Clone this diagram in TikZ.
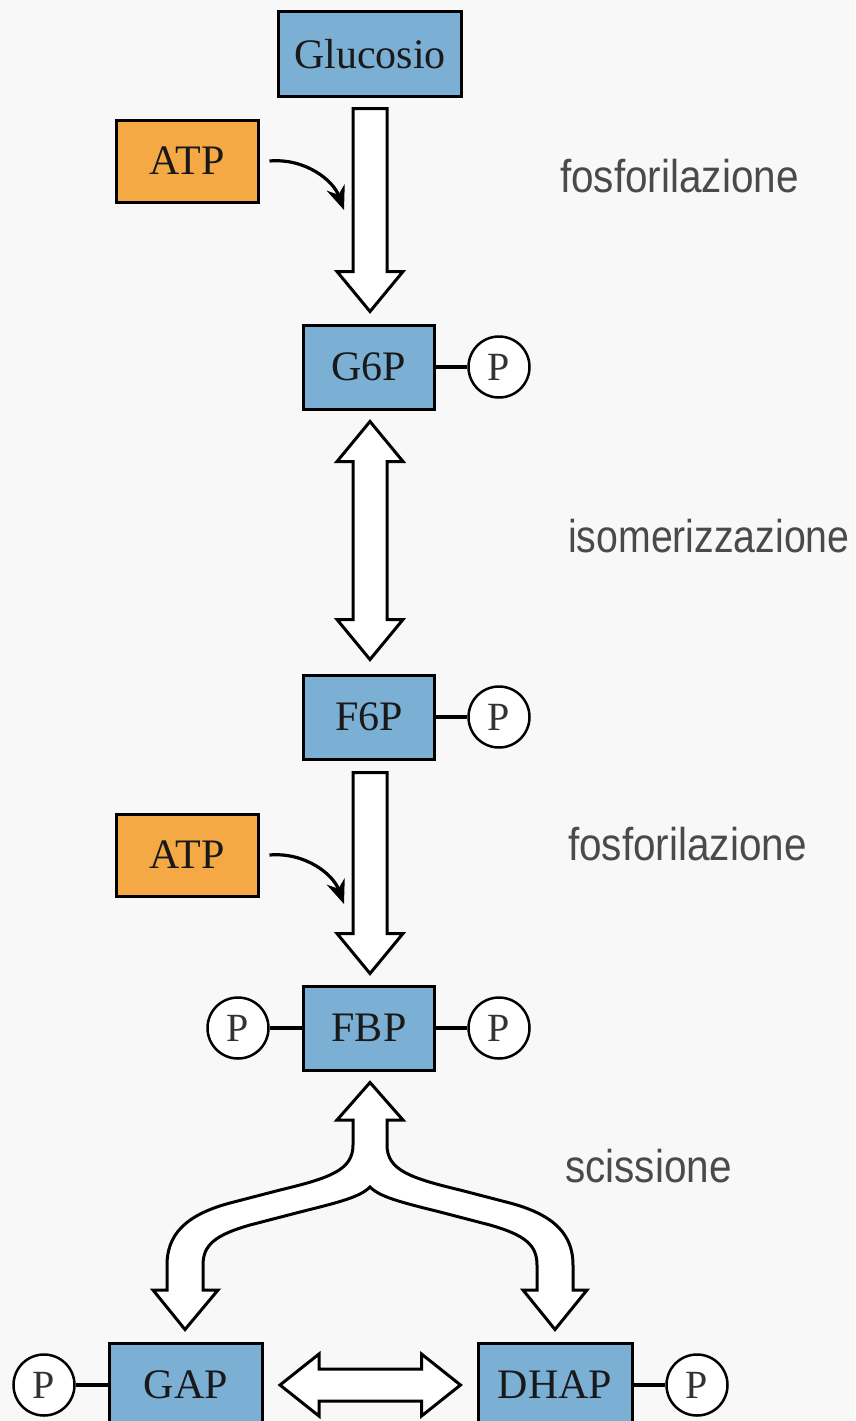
\documentclass[tikz,border=0pt]{standalone}
\usepackage{fontspec}
\setmainfont{Liberation Serif}
\newfontfamily\labfont{Liberation Sans}
\usetikzlibrary{arrows.meta,calc}
\definecolor{bg}{HTML}{F8F8F8}
\definecolor{boxblue}{HTML}{7BAFD4}
\definecolor{atporange}{HTML}{F5A945}
\definecolor{labgray}{HTML}{4A4A4A}
\newcommand{\fatdown}[2]{%
  \draw[fat] ($(#1)+(-17,0)$) -- ($(#1)+(17,0)$) -- ($(#2)+(17,-40)$) -- ($(#2)+(33,-40)$)
    -- (#2) -- ($(#2)+(-33,-40)$) -- ($(#2)+(-17,-40)$) -- cycle;}
\newcommand{\fatboth}[2]{%
  \draw[fat] (#1) -- ($(#1)+(33,40)$) -- ($(#1)+(17,40)$) -- ($(#2)+(17,-40)$) -- ($(#2)+(33,-40)$)
    -- (#2) -- ($(#2)+(-33,-40)$) -- ($(#2)+(-17,-40)$) -- ($(#1)+(-17,40)$) -- ($(#1)+(-33,40)$) -- cycle;}
\begin{document}
\begin{tikzpicture}[x=1pt,y=-1pt,
  mol/.style={draw=black, line width=3pt, fill=boxblue, minimum height=84pt, inner sep=0pt,
    font=\fontsize{42}{42}\selectfont, text=black!90},
  atp/.style={draw=black, line width=3pt, fill=atporange, minimum width=142pt, minimum height=82pt,
    inner sep=0pt, font=\fontsize{42}{42}\selectfont, text=black!90},
  phos/.style={circle, draw=black, line width=2.5pt, fill=white, minimum size=61pt, inner sep=0pt,
    font=\fontsize{40}{40}\selectfont, text=black!80},
  bond/.style={line width=3.5pt},
  fat/.style={draw=black, line width=3pt, fill=white, line join=miter},
  catarrow/.style={line width=3.2pt, -{Stealth[length=24pt,width=19pt]}},
  reactlabel/.style={font=\labfont\fontsize{46}{46}\selectfont, text=labgray, anchor=base west,
    inner sep=0pt, xscale=0.88}
]
\fill[bg] (0,0) rectangle (855,1421);
\useasboundingbox (0,0) rectangle (855,1421);
\begin{scope}
\clip (0,0) rectangle (855,1421);

% molecule boxes
\node[mol, minimum width=183pt] (glc) at (370,54) {Glucosio};
\node[atp] (atp1) at (187,161) {ATP};
\node[mol, minimum width=131pt] (g6p) at (369,367) {G6P};
\node[mol, minimum width=131pt] (f6p) at (369,717) {F6P};
\node[atp] (atp2) at (187,855) {ATP};
\node[mol, minimum width=131pt] (fbp) at (369,1028) {FBP};
\node[mol, minimum width=153pt] (gap) at (186,1385) {GAP};
\node[mol, minimum width=154pt] (dhap) at (555,1385) {DHAP};

% phosphates
\node[phos] (pg6p) at (499,367) {P};
\node[phos] (pf6p) at (499,717) {P};
\node[phos] (pfbpl) at (238,1028) {P};
\node[phos] (pfbpr) at (499,1028) {P};
\node[phos] (pgap) at (44,1385) {P};
\node[phos] (pdhap) at (697,1385) {P};
\draw[bond] (g6p) -- (pg6p);
\draw[bond] (f6p) -- (pf6p);
\draw[bond] (pfbpl) -- (fbp);
\draw[bond] (fbp) -- (pfbpr);
\draw[bond] (pgap) -- (gap);
\draw[bond] (dhap) -- (pdhap);

% fat arrows
\coordinate (a1s) at ($(glc.south)+(0,11)$);
\coordinate (a1e) at ($(g6p.north)+(1,-12)$);
\fatdown{a1s}{a1e}
\coordinate (a2s) at ($(g6p.south)+(1,11)$);
\coordinate (a2e) at ($(f6p.north)+(1,-14)$);
\fatboth{a2s}{a2e}
\coordinate (a3s) at ($(f6p.south)+(1,12)$);
\coordinate (a3e) at ($(fbp.north)+(1,-11)$);
\fatdown{a3s}{a3e}

% split arrow FBP <-> GAP / DHAP
\draw[fat] ($(fbp.south)+(1,11)$) -- (403,1120) -- (387,1120) -- (387,1145)
  .. controls (387,1170) and (410,1178) .. (460,1190) -- (510,1203)
  .. controls (555,1215) and (573,1235) .. (573,1265) -- (573,1290) -- (587,1290)
  -- ($(dhap.north)+(0,-12)$) -- (523,1290) -- (537,1290) -- (537,1265)
  .. controls (537,1245) and (525,1235) .. (490,1225) -- (440,1212)
  .. controls (400,1202) and (380,1197) .. (370,1187)
  .. controls (360,1197) and (340,1202) .. (300,1212) -- (250,1225)
  .. controls (215,1235) and (203,1245) .. (203,1265) -- (203,1290) -- (218,1290)
  -- ($(gap.north)+(-1,-12)$) -- (153,1290) -- (167,1290) -- (167,1265)
  .. controls (167,1235) and (185,1215) .. (230,1203) -- (280,1190)
  .. controls (330,1178) and (353,1170) .. (353,1145) -- (353,1120) -- (337,1120) -- cycle;

% horizontal double arrow GAP <-> DHAP
\coordinate (hl) at ($(gap.east)+(16,0)$);
\coordinate (hr) at ($(dhap.west)+(-16,0)$);
\draw[fat] (hl) -- ($(hl)+(39,-31)$) -- ($(hl)+(39,-16)$) -- ($(hr)+(-39,-16)$) -- ($(hr)+(-39,-31)$)
  -- (hr) -- ($(hr)+(-39,31)$) -- ($(hr)+(-39,16)$) -- ($(hl)+(39,16)$) -- ($(hl)+(39,31)$) -- cycle;

% ATP curved arrows
\coordinate (c1e) at (344,210);
\draw[catarrow] ($(atp1.east)+(10,0)$) .. controls (305,158) and (333,180) .. (c1e);
\coordinate (c2e) at (344,904);
\draw[catarrow] ($(atp2.east)+(10,0)$) .. controls (305,852) and (333,874) .. (c2e);

% reaction labels
\node[reactlabel] (l1) at (560,192) {fosforilazione};
\node[reactlabel, xscale=0.97] (l2) at (568,552) {isomerizzazione};
\node[reactlabel] (l3) at (568,860) {fosforilazione};
\node[reactlabel] (l4) at (565,1182) {scissione};
\end{scope}
\end{tikzpicture}
\end{document}
